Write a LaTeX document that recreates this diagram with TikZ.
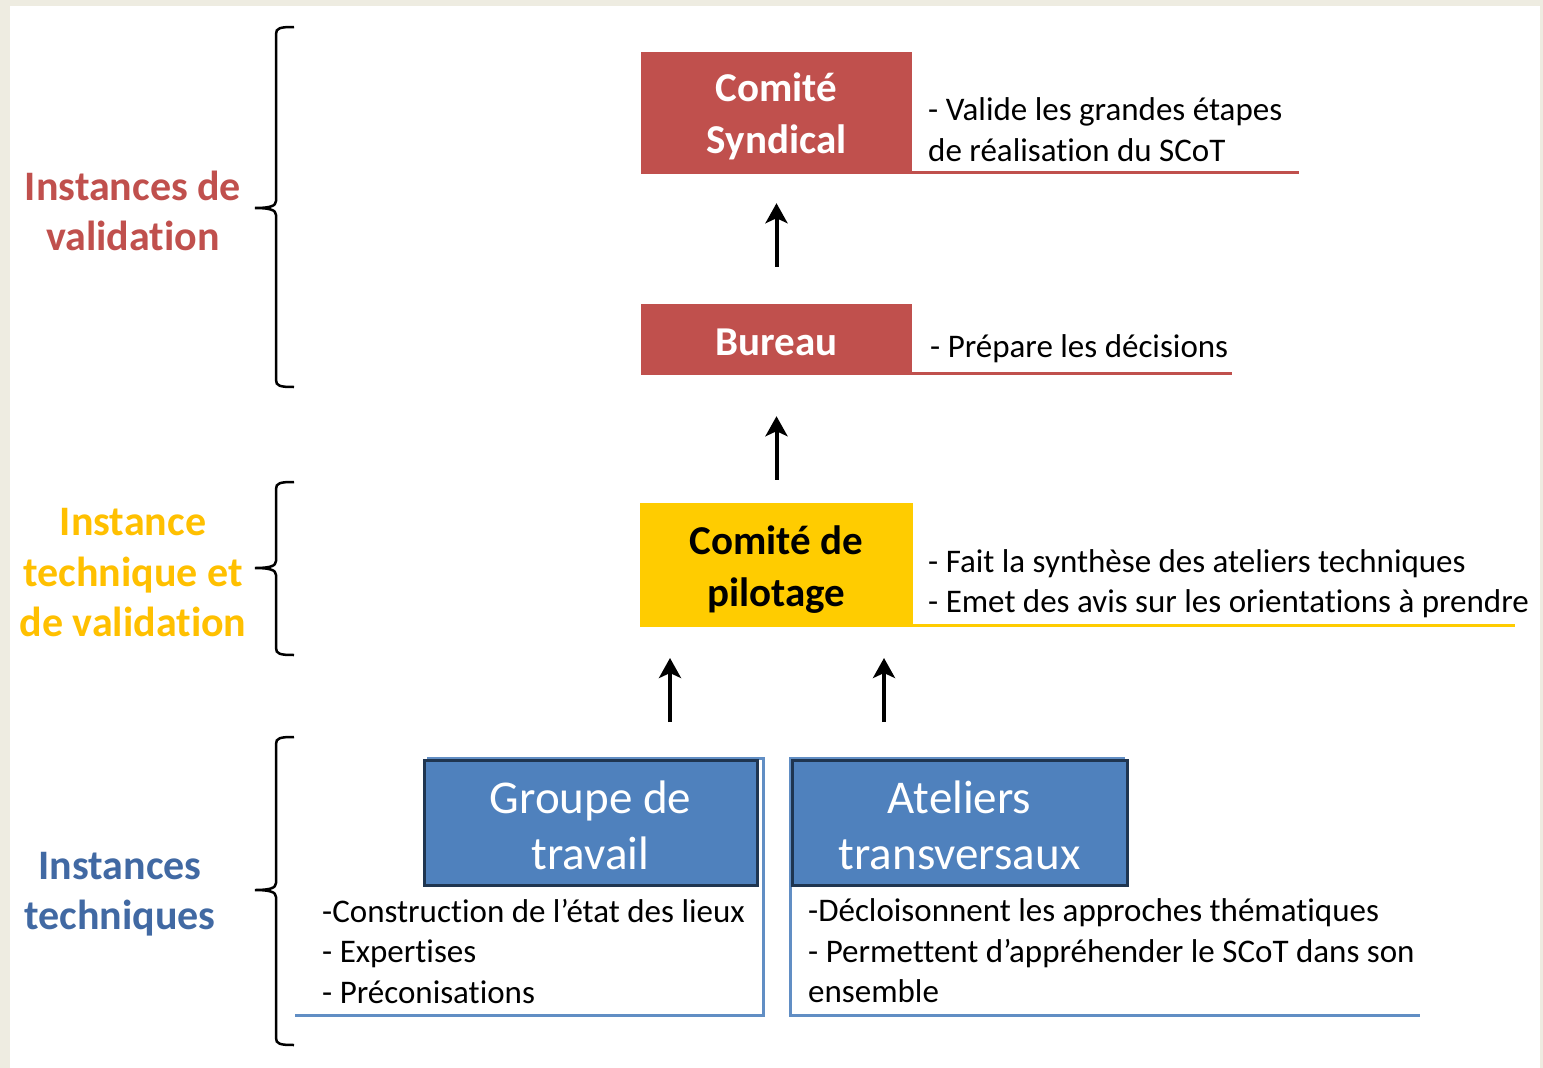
\documentclass[tikz,border=0pt]{standalone}
\usepackage{fontspec}
\setmainfont{Carlito}[Ligatures={TeX,NoCommon}]
\usetikzlibrary{arrows.meta}
\definecolor{bgtan}{HTML}{EEECE1}
\definecolor{redbox}{HTML}{C0504D}
\definecolor{yelbox}{HTML}{FFCC00}
\definecolor{yeltxt}{HTML}{FFC000}
\definecolor{bluebox}{HTML}{4F81BD}
\definecolor{bluedark}{HTML}{1F3550}
\definecolor{bluetxt}{HTML}{4169A3}
\tikzset{
  boxshape/.style={rectangle, inner sep=0pt},
  titletext/.style={inner sep=0pt, align=center, font=\fontsize{41}{52}\selectfont\bfseries},
  bluebox/.style={rectangle, inner sep=0pt, fill=bluebox, draw=bluedark, line width=3pt},
  bluetitle/.style={inner sep=0pt, align=center, text=white, font=\fontsize{47}{56}\selectfont},
  desc/.style={anchor=west, inner sep=0pt, align=left, font=\fontsize{33}{40.5}\selectfont},
  sidelabel/.style={inner sep=0pt, align=center, font=\fontsize{42}{50.5}\selectfont\bfseries},
  arr/.style={line width=4pt, -{Stealth[length=20pt,width=22pt,inset=5pt]}},
  bracepath/.style={line width=2.5pt, black},
  redline/.style={line width=3pt, redbox},
  yelline/.style={line width=3pt, yelbox},
  blueline/.style={line width=3pt, bluebox!90!white},
}
\begin{document}
\begin{tikzpicture}[x=1pt,y=-1pt]
\useasboundingbox (0,0) rectangle (1543,1068);
\fill[bgtan] (0,0) rectangle (1543,1068);
\fill[white] (10,6) rectangle (1540,1068);

% braces
\draw[bracepath] (294,27) .. controls (280,27) and (276,28) .. (276,34) -- (276,201)
  .. controls (276,206) and (270,208) .. (255,208)
  .. controls (270,208) and (276,210) .. (276,215) -- (276,380)
  .. controls (276,386) and (280,387) .. (294,387);
\draw[bracepath] (294,482) .. controls (280,482) and (276,483) .. (276,489) -- (276,561)
  .. controls (276,566) and (270,568) .. (255,568)
  .. controls (270,568) and (276,570) .. (276,575) -- (276,648)
  .. controls (276,654) and (280,655) .. (294,655);
\draw[bracepath] (294,737) .. controls (280,737) and (276,738) .. (276,744) -- (276,883)
  .. controls (276,888) and (270,890) .. (255,890)
  .. controls (270,890) and (276,892) .. (276,897) -- (276,1038)
  .. controls (276,1044) and (280,1045) .. (294,1045);

% side labels
\node[sidelabel, text=redbox] (lv) at (133,211) {Instances de\\validation};
\node[sidelabel, text=yeltxt] (ltv) at (133,573) {Instance\\technique et\\de validation};
\node[sidelabel, text=bluetxt] (lt) at (120,894) {Instances\\techniques};

% underlines
\draw[redline] (912,172.5) -- (1299,172.5);
\draw[redline] (912,373.5) -- (1232,373.5);
\draw[yelline] (913,625.5) -- (1515,625.5);
\draw[blueline] (427,758) -- (763,758) -- (763,1015) -- (295,1015);
\draw[blueline] (1125,758) -- (790,758) -- (790,1015) -- (1420,1015);

% boxes
\node[boxshape, fill=redbox, minimum width=271pt, minimum height=122pt] (cs) at (776.5,113) {};
\node[titletext, text=white] (cst) at (776.5,116) {Comité\\Syndical};
\node[boxshape, fill=redbox, minimum width=271pt, minimum height=71pt] (bu) at (776.5,339.5) {};
\node[titletext, text=white] (but) at (776.5,342.5) {Bureau};
\node[boxshape, fill=yelbox, minimum width=273pt, minimum height=124pt] (cp) at (776.5,565) {};
\node[titletext, text=black] (cpt) at (776.5,569.5) {Comité de\\pilotage};
\node[bluebox, minimum width=333pt, minimum height=125pt] (gt) at (590.5,822.5) {};
\node[bluetitle] (gtt) at (590.5,825) {Groupe de\\travail};
\node[bluebox, minimum width=335pt, minimum height=125pt] (at) at (959.5,822.5) {};
\node[bluetitle] (att) at (959.5,825) {Ateliers\\transversaux};

% descriptions
\node[desc] (csd) at (928,129.5) {- Valide les grandes étapes\\de réalisation du SCoT};
\node[desc] (bud) at (930,348.5) {- Prépare les décisions};
\node[desc] (cpd) at (928,583.5) {- Fait la synthèse des ateliers techniques\\- Emet des avis sur les orientations à prendre};
\node[desc] (gtd) at (322,951) {-Construction de l’état des lieux\\- Expertises\\- Préconisations};
\node[desc] (atd) at (808,951) {-Décloisonnent les approches thématiques\\- Permettent d’appréhender le SCoT dans son\\ensemble};

% arrows
\draw[arr] ([yshift=37pt]bu.north) -- ([yshift=-29pt]cs.south);
\draw[arr] ([yshift=23pt]cp.north) -- ([yshift=-41pt]bu.south);
\coordinate (g1) at (670,722);
\coordinate (g2) at (670,658);
\coordinate (a1) at (884,722);
\coordinate (a2) at (884,658);
\draw[arr] (g1) -- (g2);
\draw[arr] (a1) -- (a2);
\end{tikzpicture}
\end{document}
